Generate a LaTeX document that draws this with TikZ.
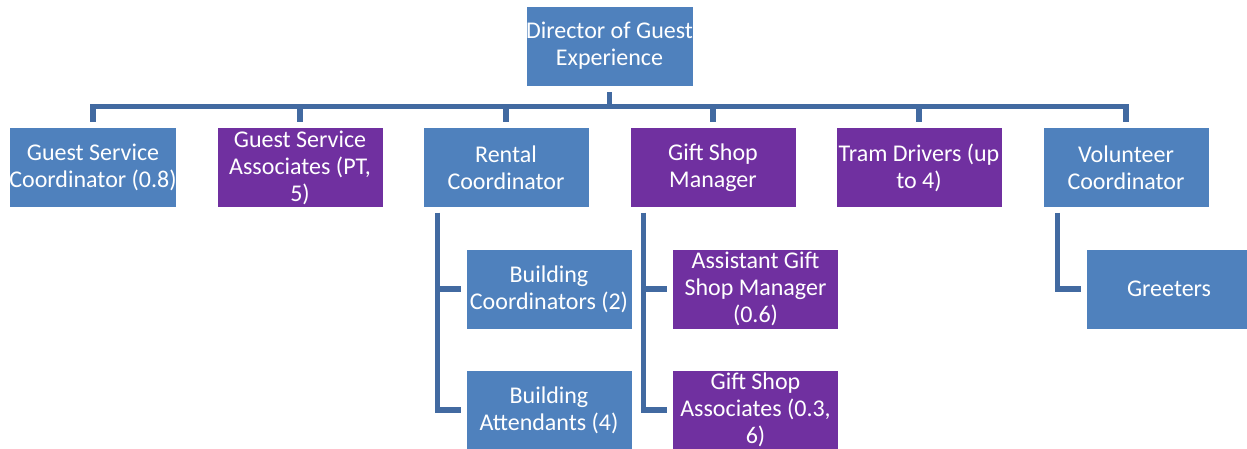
\documentclass[tikz,border=0pt]{standalone}
\usepackage{fontspec}
\setmainfont{Carlito}
\usetikzlibrary{calc}
\definecolor{boxblue}{RGB}{79,129,189}
\definecolor{boxpurple}{RGB}{112,48,160}
\definecolor{linecol}{RGB}{66,106,161}
\tikzset{
  orgbox/.style={rectangle, draw=white, line width=0.6pt, minimum width=166pt, minimum height=80pt, inner sep=0pt, align=center, text=white, font=\fontsize{24}{27}\selectfont},
  bluebox/.style={orgbox, fill=boxblue},
  purplebox/.style={orgbox, fill=boxpurple},
  conn/.style={draw=linecol, line width=5.5pt}
}
\begin{document}
\begin{tikzpicture}[x=1pt,y=-1pt]
\useasboundingbox (0,0) rectangle (1247,449);
\fill[white] (0,0) rectangle (1247,449);
\node[bluebox, minimum width=165pt] (top) at (609.5,46) {Director of Guest\\Experience};
\node[bluebox] (c1) at (93,167.5) {Guest Service\\Coordinator (0.8)};
\node[purplebox] (c2) at (300,167.5) {Guest Service\\Associates (PT,\\5)};
\node[bluebox] (c3) at (506,167.5) {Rental\\Coordinator};
\node[purplebox] (c4) at (713,167.5) {Gift Shop\\Manager};
\node[purplebox] (c5) at (919,167.5) {Tram Drivers (up\\to 4)};
\node[bluebox] (c6) at (1126,167.5) {Volunteer\\Coordinator};
\node[bluebox] (r1) at (549,289) {Building\\Coordinators (2)};
\node[bluebox] (r2) at (549,410) {Building\\Attendants (4)};
\node[purplebox] (g1) at (755.5,289) {Assistant Gift\\Shop Manager\\(0.6)};
\node[purplebox] (g2) at (755.5,410) {Gift Shop\\Associates (0.3,\\6)};
\node[bluebox] (v1) at (1169,289) {Greeters};
% top connectors
\draw[conn] ($(top.south)+(0,6)$) -- ++(0,14) coordinate (hub);
\foreach \c in {c1,c2,c3,c4,c5,c6}{
  \draw[conn] (hub) -| ($(\c.north)+(0,-5)$);
}
% rental
\draw[conn] ($(c3.south west)+(15,5)$) |- ($(r2.west)+(-5,0)$);
\draw[conn] ($(c3.south west)+(15,5)$) |- ($(r1.west)+(-5,0)$);
% gift shop
\draw[conn] ($(c4.south west)+(14,5)$) |- ($(g2.west)+(-5,0)$);
\draw[conn] ($(c4.south west)+(14,5)$) |- ($(g1.west)+(-5,0)$);
% volunteer
\draw[conn] ($(c6.south west)+(15,5)$) |- ($(v1.west)+(-5,0)$);
\end{tikzpicture}
\end{document}
